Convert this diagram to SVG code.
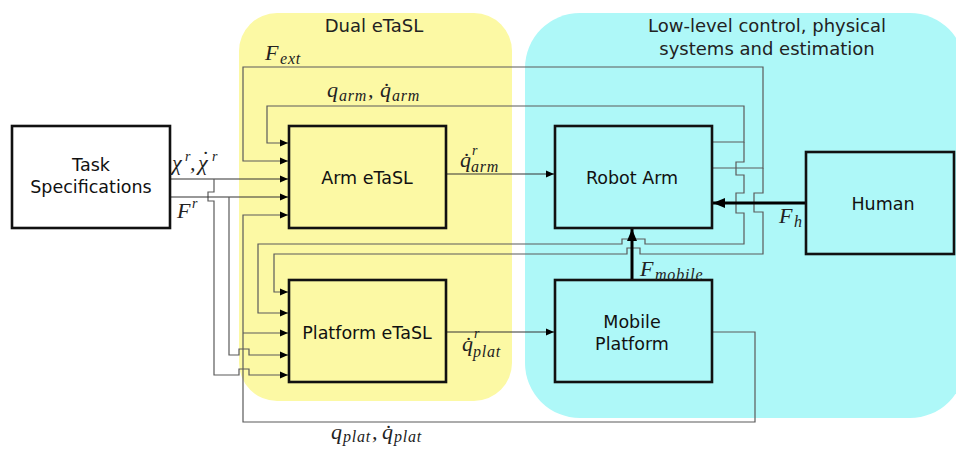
<svg xmlns="http://www.w3.org/2000/svg" width="956" height="449" viewBox="0 0 956 449">
<style>
.box{fill:none;stroke:#111;stroke-width:2.6}
.lbl{font-family:"DejaVu Sans",sans-serif;font-size:17.5px;fill:#111;text-anchor:middle}
.ttl{font-family:"DejaVu Sans",sans-serif;font-size:18px;fill:#222;text-anchor:middle}
.ln{fill:none;stroke:#5a5a5a;stroke-width:1.2}
.sig{fill:none;stroke:#333;stroke-width:1.2}
.thick{fill:none;stroke:#000;stroke-width:3}
.m{font-family:"Liberation Serif","DejaVu Serif",serif;font-style:italic;font-size:22px;fill:#222}
.sb{font-family:"Liberation Serif","DejaVu Serif",serif;font-style:italic;font-size:16px;letter-spacing:0.8px;fill:#222}
.sp{font-family:"Liberation Serif","DejaVu Serif",serif;font-style:italic;font-size:14px;fill:#222}
.d{font-family:"Liberation Serif","DejaVu Serif",serif;font-size:22px;fill:#222}
</style>
<defs>
<marker id="ah" markerUnits="userSpaceOnUse" markerWidth="9" markerHeight="8" refX="8" refY="4" orient="auto">
<path d="M0,0.5 L8,4 L0,7.5 z" fill="#000"/>
</marker>
<marker id="ahb" markerUnits="userSpaceOnUse" markerWidth="13" markerHeight="11" refX="12" refY="5.5" orient="auto">
<path d="M0,0.5 L12,5.5 L0,10.5 z" fill="#000"/>
</marker>
</defs>
<rect x="0" y="0" width="956" height="449" fill="#fff"/>
<rect id="bg-dual" x="239" y="13" width="273" height="388" rx="38" fill="#fcf9a4"/>
<rect id="bg-low" x="525" y="13" width="440" height="405" rx="55" fill="#aef8f8"/>
<text class="ttl" x="374" y="32">Dual eTaSL</text>
<text class="ttl" x="767" y="32">Low-level control, physical</text>
<text class="ttl" x="767" y="55">systems and estimation</text>

<g id="connectors">
<path class="sig" d="M170,179 H288" marker-end="url(#ah)"/>
<path class="ln" d="M214,179 V192 H208 V201 H214 V375 H239 V369 H249 V375 H288" marker-end="url(#ah)"/>
<path class="sig" d="M170,197 H288" marker-end="url(#ah)"/>
<path class="ln" d="M229,197 V355 H239 V349 H249 V355 H288" marker-end="url(#ah)"/>
<path class="ln" d="M712,332 H755 V422 H243 V215 H288" marker-end="url(#ah)"/>
<path class="ln" d="M243,333 H288" marker-end="url(#ah)"/>
<path class="ln" d="M712,168 H763 V67 H243 V161 H288" marker-end="url(#ah)"/>
<path class="ln" d="M763,168 V193 H754 V212 H763 V254 H640 V248 H627 V254 H274 V292 H288" marker-end="url(#ah)"/>
<path class="ln" d="M712,142 H744 V106 H267 V143 H288" marker-end="url(#ah)"/>
<path class="ln" d="M744,142 V162 H736 V175 H744 V193 H736 V213 H744 V244 H645 V239 H622 V244 H258 V313 H288" marker-end="url(#ah)"/>
<path class="sig" d="M446,174 H554" marker-end="url(#ah)"/>
<path class="sig" d="M446,332 H554" marker-end="url(#ah)"/>
<path class="thick" d="M806,203 H713" marker-end="url(#ahb)"/>
<path class="thick" d="M632,280 V229" marker-end="url(#ahb)"/>
</g>

<g id="task"><rect class="box" x="12" y="126" width="158" height="102" fill="#fff"/>
<text class="lbl" x="91" y="171">Task</text><text class="lbl" x="91" y="193">Specifications</text></g>
<g id="arm-etasl"><rect class="box" x="289" y="126" width="157" height="102"/>
<text class="lbl" x="367" y="184">Arm eTaSL</text></g>
<g id="plat-etasl"><rect class="box" x="289" y="280" width="157" height="102"/>
<text class="lbl" x="367" y="339">Platform eTaSL</text></g>
<g id="robot-arm"><rect class="box" x="555" y="126" width="157" height="102"/>
<text class="lbl" x="632" y="184">Robot Arm</text></g>
<g id="mobile"><rect class="box" x="555" y="280" width="157" height="102"/>
<text class="lbl" x="632" y="328">Mobile</text><text class="lbl" x="632" y="350">Platform</text></g>
<g id="human"><rect class="box" x="806" y="152" width="148" height="102"/>
<text class="lbl" x="883" y="210">Human</text></g>

<g id="labels">
<text class="m" x="265" y="60">F</text><text class="sb" x="280" y="64">ext</text>
<text class="m" x="327" y="97">q</text><text class="sb" x="339" y="101">arm</text>
<text class="m" x="368" y="97">,</text>
<text class="m" x="380" y="97">q̇</text><text class="sb" x="392" y="101">arm</text>
<text class="m" x="172" y="170">χ</text><text class="sp" x="185" y="161">r</text>
<text class="m" x="190" y="170">,</text>
<text class="m" x="198" y="170">χ</text><text class="d" x="202" y="166">˙</text><text class="sp" x="212" y="161">r</text>
<text class="m" x="177" y="218">F</text><text class="sp" x="192" y="208">r</text>
<text class="m" x="460" y="167">q̇</text>
<text class="sp" x="472" y="155">r</text><text class="sb" x="471" y="172">arm</text>
<text class="m" x="462" y="351">q̇</text>
<text class="sp" x="474" y="338">r</text><text class="sb" x="473" y="357">plat</text>
<text class="m" x="640" y="276">F</text><text class="sb" x="655" y="280">mobile</text>
<text class="m" x="779" y="223">F</text><text class="sb" x="794" y="227">h</text>
<text class="m" x="331" y="439">q</text><text class="sb" x="343" y="442">plat</text>
<text class="m" x="372" y="439">,</text>
<text class="m" x="382" y="439">q̇</text><text class="sb" x="394" y="442">plat</text>
</g>
</svg>
